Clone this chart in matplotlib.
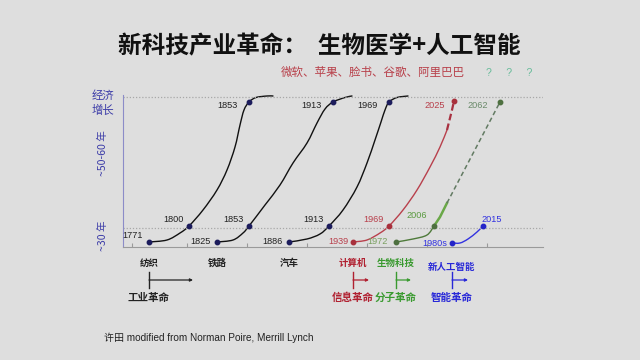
import matplotlib
matplotlib.use("Agg")
import matplotlib.pyplot as plt
from matplotlib.path import Path
from matplotlib.patches import PathPatch

plt.rcParams['font.family'] = ['Noto Sans CJK SC', 'DejaVu Sans']

BG = '#dedede'
NUM_FONT = ['Liberation Sans', 'Noto Sans CJK SC']

# each wave: traced curve (chart units: x along the axis, y = growth height)
textile_x = [26, 44, 57, 66, 80, 94, 104, 112, 117, 121, 126, 133, 144, 150]
textile_y = [5, 7, 14, 21, 37, 57, 77, 100, 122, 137, 145, 149.5, 151, 151]
rail_x = [94, 110, 120, 126, 142, 157, 170, 184, 194, 202, 210, 222, 229]
rail_y = [5, 7, 14, 21, 42, 62, 84, 104, 124, 138, 145, 149.5, 151]
car_x = [166, 184, 197, 206, 220, 234, 244, 252, 258, 262, 266, 274, 285]
car_y = [5, 8, 13, 21, 37, 60, 84, 107, 125, 137, 145, 149.5, 151]
computer_x = [230, 244, 257, 266, 280, 294, 307, 317, 324]
computer_y = [5, 7, 14, 21, 37, 57, 80, 100, 117]
computer_proj_x = [324, 329, 331]
computer_proj_y = [117, 137, 146]
biotech_x = [273, 290, 304, 311]
biotech_y = [5, 8, 12, 21]
biotech_grow_x = [311, 317, 324]
biotech_grow_y = [21, 30, 44]
biotech_proj_x = [324, 377]
biotech_proj_y = [44, 145]
ai_x = [329, 337, 345, 354, 360]
ai_y = [4, 4, 8, 15, 21]

# marked years on each wave
textile_pts = [(26, 5, '1771'), (66, 21, '1800'), (126, 145, '1853')]
rail_pts = [(94, 5, '1825'), (126, 21, '1853'), (210, 145, '1913')]
car_pts = [(166, 5, '1886'), (206, 21, '1913'), (266, 145, '1969')]
computer_pts = [(230, 5, '1939'), (266, 21, '1969'), (331, 146, '2025')]
biotech_pts = [(273, 5, '1972'), (311, 21, '2006'), (377, 145, '2062')]
ai_pts = [(329, 4, '1980s'), (360, 21, '2015')]

industries = ['纺织', '铁路', '汽车', '计算机', '生物科技', '新人工智能']
revolutions = ['工业革命', '信息革命', '分子革命', '智能革命']
companies = '微软、苹果、脸书、谷歌、阿里巴巴'

fig = plt.figure(figsize=(6.4, 3.6), dpi=100, facecolor=BG)
ax = fig.add_axes([123 / 640, 113 / 360, 420 / 640, 152 / 360])
ax.set_facecolor(BG)
ax.set_xlim(0, 420)
ax.set_ylim(0, 152)

for s in ['top', 'right']:
    ax.spines[s].set_visible(False)
ax.spines['bottom'].set_color('#9a9a9a')
ax.spines['left'].set_color('#8c8cc8')
ax.set_xticks([9, 64, 124, 184, 244, 304, 364])
ax.set_xticklabels([])
ax.set_yticks([])
ax.tick_params(axis='x', direction='in', length=3, color='#9a9a9a')

# level lines
ax.axhline(150, color='#a8a8a8', lw=0.9, ls=(0, (1, 1.5)))
ax.axhline(19.5, color='#a8a8a8', lw=0.9, ls=(0, (1, 1.5)))

BLACK = '#111111'
RED = '#b8404c'
GREEN = '#5a9a40'
BLUE = '#3232e0'


# smooth curve through the traced points (Catmull-Rom as cubic Bezier)
def smooth(xs, ys, **kw):
    pts = list(zip(xs, ys))
    verts = [pts[0]]
    codes = [Path.MOVETO]
    for i in range(len(pts) - 1):
        p0 = pts[max(i - 1, 0)]
        p1, p2 = pts[i], pts[i + 1]
        p3 = pts[min(i + 2, len(pts) - 1)]
        c1 = (p1[0] + (p2[0] - p0[0]) / 6, p1[1] + (p2[1] - p0[1]) / 6)
        c2 = (p2[0] - (p3[0] - p1[0]) / 6, p2[1] - (p3[1] - p1[1]) / 6)
        verts += [c1, c2, p2]
        codes += [Path.CURVE4] * 3
    ax.add_patch(PathPatch(Path(verts, codes), fill=False, capstyle='round', **kw))


smooth(textile_x, textile_y, color=BLACK, lw=1.0)
smooth(rail_x, rail_y, color=BLACK, lw=1.0)
smooth(car_x, car_y, color=BLACK, lw=1.0)
smooth(computer_x, computer_y, color=RED, lw=1.0)
ax.plot(computer_proj_x, computer_proj_y, color='#a83040', lw=1.6, ls=(0, (3, 1.5)))
smooth(biotech_x, biotech_y, color='#4e7a3a', lw=1.0)
ax.plot(biotech_grow_x, biotech_grow_y, color='#6aa848', lw=1.8)
ax.plot(biotech_proj_x, biotech_proj_y, color='#627a62', lw=1.1, ls=(0, (3, 2)))
smooth(ai_x, ai_y, color=BLUE, lw=1.0)


# marker colour, label colours and label offsets (pixels) per point
def mark(pts, mcolor, lcolors, offsets):
    for (x, y, yr), lc, (dx, dy, ha) in zip(pts, lcolors, offsets):
        ax.plot(x, y, 'o', color=mcolor, ms=3.2, zorder=5, clip_on=False)
        ax.annotate(yr, (x, y), xytext=(dx, dy), textcoords='offset pixels',
                    ha=ha, va='center', fontsize=6.6, color=lc, family=NUM_FONT)


std = [(-6, 0, 'right'), (-5, 6, 'right'), (-11, -4, 'right')]
mark(textile_pts, '#1c1c5c', ['#222'] * 3, [(-6, 6, 'right'), (-5, 6, 'right'), (-11, -4, 'right')])
mark(rail_pts, '#1c1c5c', ['#222'] * 3, std)
mark(car_pts, '#1c1c5c', ['#222'] * 3, std)
mark(computer_pts, '#a8303c', [RED, RED, RED], [(-5, 0, 'right'), (-5, 6, 'right'), (-9, -5, 'right')])
mark(biotech_pts, '#4e7040', ['#7aa060', GREEN, '#6a8a6a'], [(-8, 0, 'right'), (-7, 10, 'right'), (-12, -4, 'right')])
mark(ai_pts, '#2424c8', [BLUE, BLUE], [(-5, 0, 'right'), (-2, 7, 'left')])

# industry labels and revolution brackets under the axis
starts = [textile_x[0], rail_x[0], car_x[0], computer_x[0], biotech_x[0], ai_x[0]]
ind_colors = ['#222', '#222', '#222', '#b02030', '#3a9a30', '#2828d8']
for x, name, c in zip(starts, industries, ind_colors):
    dy = -16 if name != '新人工智能' else -20
    ax.annotate(name, (x, 0), xytext=(0, dy), textcoords='offset pixels',
                ha='center', va='center', fontsize=6.8, weight='bold', color=c,
                annotation_clip=False)

rev_x = [textile_x[0], computer_x[0], biotech_x[0], ai_x[0]]
rev_len = [44, 16, 15, 16]
rev_colors = ['#222', '#b02030', '#3a9a30', '#2828d8']
for x, L, name, c in zip(rev_x, rev_len, revolutions, rev_colors):
    ax.plot([x, x], [-25, -41], color=c, lw=1.0, clip_on=False)
    ax.annotate('', xy=(x + L, -33), xytext=(x, -33), annotation_clip=False,
                arrowprops=dict(arrowstyle='-|>', color=c, lw=0.9,
                                mutation_scale=4, shrinkA=0, shrinkB=0))
    ax.annotate(name, (x, -51), ha='center', va='center', fontsize=7.6,
                weight='bold', color=c, annotation_clip=False)

# axis side labels
fig.text(103, 360 - 103, '经济\n增长', transform=None, ha='center', va='center',
         fontsize=8.2, color='#3c3ca8', linespacing=1.45)
fig.text(103, 360 - 153, '~50-60 年', transform=None, ha='center', va='center',
         fontsize=7.6, color='#3c3ca8', rotation=90)
fig.text(103, 360 - 236, '~30 年', transform=None, ha='center', va='center',
         fontsize=7.6, color='#3c3ca8', rotation=90)

fig.text(319, 360 - 46, '新科技产业革命：  生物医学+人工智能', transform=None,
         ha='center', va='center', fontsize=17, weight='bold', color='#111')
fig.text(373, 360 - 72, companies, transform=None, ha='center', va='center',
         fontsize=8.3, color='#b8404a')
fig.text(509, 360 - 73, '?     ?     ?', transform=None, ha='center', va='center',
         fontsize=7.5, color='#66bb99', family=NUM_FONT)
fig.text(104, 360 - 338, '许田 modified from Norman Poire, Merrill Lynch', transform=None,
         ha='left', va='center', fontsize=7.2, color='#222', family=NUM_FONT)

fig.savefig('out.png', dpi=100, facecolor=BG)
